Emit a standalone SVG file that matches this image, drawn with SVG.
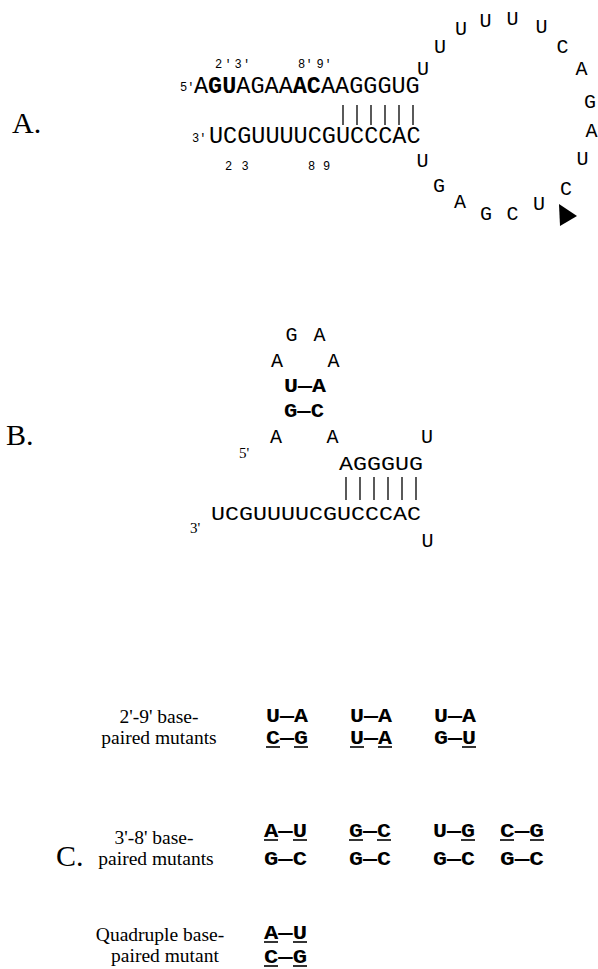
<svg xmlns="http://www.w3.org/2000/svg" width="598" height="969" viewBox="0 0 598 969">
  <style>
    text { fill: #000; }
    .panel { font-family: "Liberation Serif", "Times New Roman", serif; font-size: 30px; }
    .mono { font-family: "Liberation Mono", "Courier New", monospace; }
    .strand { font-size: 23.5px; }
    .strandB { font-size: 19.5px; }
    .nt { font-size: 20px; text-anchor: middle; }
    .tiny { font-size: 12px; text-anchor: middle; }
    .end { font-family: "Liberation Serif", "Times New Roman", serif; font-size: 15px; }
    .cap { font-family: "Liberation Serif", "Times New Roman", serif; font-size: 19.5px; text-anchor: middle; }
    .pair { font-family: "Liberation Mono", "Courier New", monospace; font-size: 20px; font-weight: bold; }
    .bar { stroke: #000; stroke-width: 1.3; }
    .ul { stroke: #000; stroke-width: 1.6; }
  </style>
  <rect x="0" y="0" width="598" height="969" fill="#fff"/>

  <!-- Panel A: hairpin with large loop -->
  <g id="panel-a">
    <text class="panel" x="12" y="133">A.</text>

    <g id="a-labels-top" class="mono">
      <text class="tiny" x="218.5 228 238 246.5" y="68">2'3'</text>
      <text class="tiny" x="301.5 309 320 328" y="68">8'9'</text>
    </g>

    <g id="a-strand-5">
      <text class="mono" font-size="12" x="180" y="91">5'</text>
      <text class="mono strand" x="194" y="93">A<tspan font-weight="bold">GU</tspan>AGAA<tspan font-weight="bold">AC</tspan>AAGGGUG</text>
    </g>

    <g id="a-strand-3">
      <text class="mono" font-size="12" x="192" y="142">3'</text>
      <text class="mono strand" x="209" y="143">UCGUUUUCGUCCCAC</text>
    </g>

    <g id="a-labels-bottom" class="mono">
      <text class="tiny" x="228.5 245" y="170">23</text>
      <text class="tiny" x="311.5 326.5" y="170">89</text>
    </g>

    <g id="a-loop" class="mono">
      <text class="nt" x="423" y="75">U</text>
      <text class="nt" x="440" y="53">U</text>
      <text class="nt" x="461" y="35">U</text>
      <text class="nt" x="485.5" y="27">U</text>
      <text class="nt" x="512.5" y="25">U</text>
      <text class="nt" x="541.5" y="33">U</text>
      <text class="nt" x="562.5" y="53">C</text>
      <text class="nt" x="581.5" y="75">A</text>
      <text class="nt" x="590" y="108">G</text>
      <text class="nt" x="591.5" y="137">A</text>
      <text class="nt" x="582.5" y="165">U</text>
      <text class="nt" x="566" y="195">C</text>
      <text class="nt" x="539" y="210">U</text>
      <text class="nt" x="512.5" y="220">C</text>
      <text class="nt" x="486" y="220">G</text>
      <text class="nt" x="460" y="208">A</text>
      <text class="nt" x="439" y="192">G</text>
      <text class="nt" x="422.5" y="167">U</text>
    </g>

    <polygon id="a-cleavage" points="559,204 577,216 560,226" fill="#000"/>
  </g>

  <!-- Panel B: folded form -->
  <g id="panel-b">
    <text class="panel" x="6" y="445">B.</text>

    <g id="b-loop" class="mono">
      <text class="nt" x="291.5" y="341">G</text>
      <text class="nt" x="319.5" y="341">A</text>
      <text class="nt" x="277" y="367">A</text>
      <text class="nt" x="333.5" y="367">A</text>
      <text class="pair" x="284" y="392" textLength="42" lengthAdjust="spacingAndGlyphs">U—A</text>
      <text class="pair" x="284" y="417" textLength="40" lengthAdjust="spacingAndGlyphs">G—C</text>
      <text class="nt" x="276" y="443">A</text>
      <text class="nt" x="332.5" y="443">A</text>
      <text class="nt" x="427" y="443">U</text>
    </g>

    <g id="b-strand-5">
      <text class="end" x="239" y="458">5'</text>
      <text class="mono strandB" x="339" y="470" textLength="84" lengthAdjust="spacingAndGlyphs">AGGGUG</text>
    </g>

    <g id="b-strand-3">
      <text class="mono strandB" x="211" y="520" textLength="210" lengthAdjust="spacingAndGlyphs">UCGUUUUCGUCCCAC</text>
      <text class="end" x="190" y="533">3'</text>
      <text class="mono nt" x="427.5" y="547">U</text>
    </g>
  </g>

  <!-- Panel C: mutant pairs -->
  <g id="panel-c">
    <text class="panel" x="56" y="866">C.</text>

    <g id="c-2-9">
      <text class="cap" x="159" y="723">2'-9' base-</text>
      <text class="cap" x="159" y="744">paired mutants</text>
      <text class="pair" x="266" y="722" textLength="42" lengthAdjust="spacingAndGlyphs">U—A</text>
      <text class="pair" x="350" y="722" textLength="42" lengthAdjust="spacingAndGlyphs">U—A</text>
      <text class="pair" x="434" y="722" textLength="42" lengthAdjust="spacingAndGlyphs">U—A</text>
      <text class="pair" x="266" y="744" textLength="42" lengthAdjust="spacingAndGlyphs">C—G</text>
      <text class="pair" x="350" y="744" textLength="42" lengthAdjust="spacingAndGlyphs">U—A</text>
      <text class="pair" x="434" y="744" textLength="42" lengthAdjust="spacingAndGlyphs">G—U</text>
    </g>

    <g id="c-3-8">
      <text class="cap" x="154" y="844">3'-8' base-</text>
      <text class="cap" x="156" y="865">paired mutants</text>
      <text class="pair" x="264" y="837" textLength="43" lengthAdjust="spacingAndGlyphs">A—U</text>
      <text class="pair" x="349" y="837" textLength="42" lengthAdjust="spacingAndGlyphs">G—C</text>
      <text class="pair" x="433" y="837" textLength="42" lengthAdjust="spacingAndGlyphs">U—G</text>
      <text class="pair" x="500" y="837" textLength="44" lengthAdjust="spacingAndGlyphs">C—G</text>
      <text class="pair" x="264" y="865" textLength="43" lengthAdjust="spacingAndGlyphs">G—C</text>
      <text class="pair" x="349" y="865" textLength="42" lengthAdjust="spacingAndGlyphs">G—C</text>
      <text class="pair" x="433" y="865" textLength="42" lengthAdjust="spacingAndGlyphs">G—C</text>
      <text class="pair" x="500" y="865" textLength="44" lengthAdjust="spacingAndGlyphs">G—C</text>
    </g>

    <g id="c-quad">
      <text class="cap" x="160" y="941">Quadruple base-</text>
      <text class="cap" x="165" y="962">paired mutant</text>
      <text class="pair" x="264" y="939" textLength="43" lengthAdjust="spacingAndGlyphs">A—U</text>
      <text class="pair" x="264" y="963" textLength="43" lengthAdjust="spacingAndGlyphs">C—G</text>
    </g>
  </g>

  <!-- Base-pair ticks and mutation underlines -->
  <g id="connectors">
    <g class="bar">
      <line x1="343" y1="105" x2="343" y2="125"/>
      <line x1="357" y1="105" x2="357" y2="125"/>
      <line x1="371" y1="105" x2="371" y2="125"/>
      <line x1="385" y1="105" x2="385" y2="125"/>
      <line x1="399" y1="105" x2="399" y2="125"/>
      <line x1="413" y1="105" x2="413" y2="125"/>

      <line x1="346" y1="477" x2="346" y2="500"/>
      <line x1="360" y1="477" x2="360" y2="500"/>
      <line x1="374" y1="477" x2="374" y2="500"/>
      <line x1="388" y1="477" x2="388" y2="500"/>
      <line x1="402" y1="477" x2="402" y2="500"/>
      <line x1="416" y1="477" x2="416" y2="500"/>
    </g>
    <g class="ul">
      <line x1="266" y1="747" x2="280" y2="747"/>
      <line x1="294" y1="747" x2="308" y2="747"/>
      <line x1="350" y1="747" x2="364" y2="747"/>
      <line x1="378" y1="747" x2="392" y2="747"/>
      <line x1="462" y1="747" x2="476" y2="747"/>

      <line x1="264" y1="840" x2="278" y2="840"/>
      <line x1="293" y1="840" x2="307" y2="840"/>
      <line x1="349" y1="840" x2="363" y2="840"/>
      <line x1="377" y1="840" x2="391" y2="840"/>
      <line x1="461" y1="840" x2="475" y2="840"/>
      <line x1="500" y1="840" x2="514" y2="840"/>
      <line x1="530" y1="840" x2="544" y2="840"/>

      <line x1="264" y1="942" x2="278" y2="942"/>
      <line x1="293" y1="942" x2="307" y2="942"/>
      <line x1="264" y1="966" x2="278" y2="966"/>
      <line x1="293" y1="966" x2="307" y2="966"/>
    </g>
  </g>
</svg>
